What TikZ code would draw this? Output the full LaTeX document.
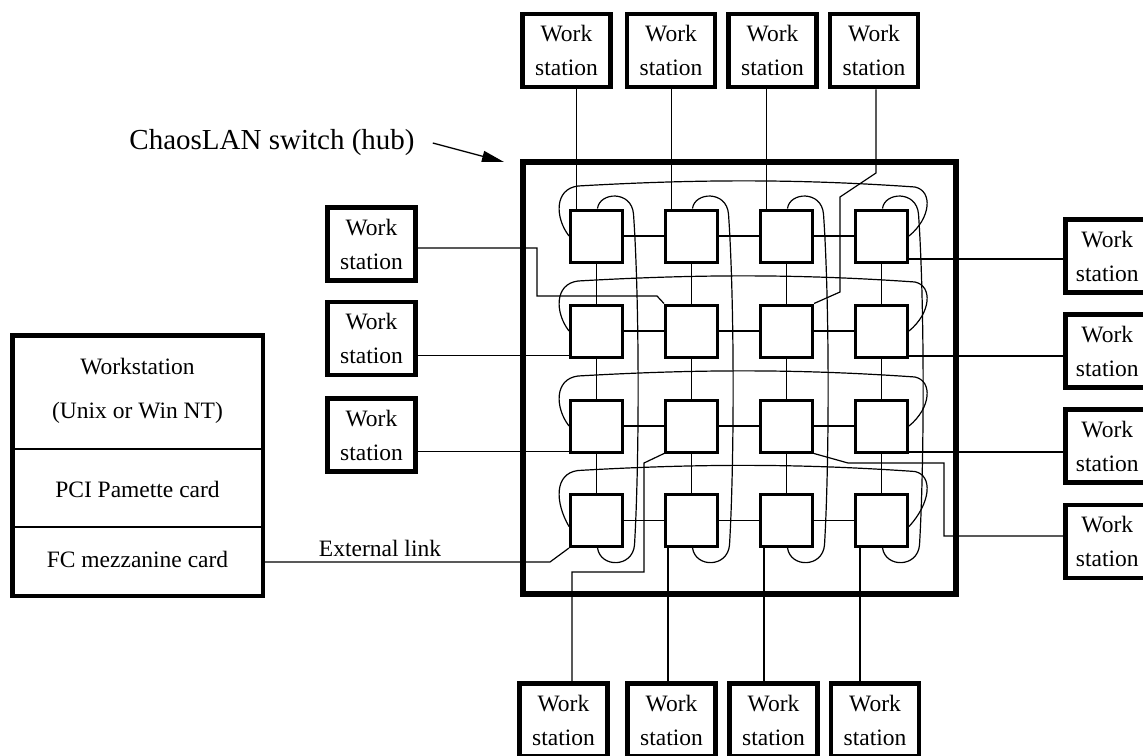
\documentclass[tikz,border=0pt]{standalone}
\usepackage{fontspec}
\setmainfont{Liberation Serif}
\usetikzlibrary{arrows.meta,calc}
\begin{document}
\begin{tikzpicture}[x=1pt,y=-1pt,
  ws/.style={draw,line width=4.5pt,minimum width=88pt,minimum height=73pt,inner sep=0pt,align=center,font=\fontsize{23.5}{34}\selectfont},
  sw/.style={draw,line width=3pt,minimum size=52pt,inner sep=0pt},
  wire/.style={line width=1.2pt},
  lbl/.style={inner sep=0pt,font=\fontsize{23.5}{34}\selectfont}]
\useasboundingbox (0,0) rectangle (1143,755);
\begin{scope}
\clip (0,0) rectangle (1143,755);
% hub
\node[draw,line width=6pt,minimum width=433.5pt,minimum height=432.5pt,inner sep=0pt] (hub) at (739.25,377.75) {};
% switches
\foreach \r/\y in {1/236,2/331,3/426,4/520.5}
  \foreach \c/\x in {1/596.5,2/691.5,3/786.5,4/881.5}
    \node[sw] (s\r\c) at (\x,\y) {};
% grid links
\foreach \r in {1,...,4}
  \foreach \c/\d in {1/2,2/3,3/4}
    \draw[wire] (s\r\c.east) -- (s\r\d.west);
\foreach \c in {1,...,4}
  \foreach \r/\q in {1/2,2/3,3/4}
    \draw[wire] (s\r\c.south) -- (s\q\c.north);
% row wrap-around
\foreach \r/\y/\o in {1/236/0,2/331/0,3/426/0,4/520.5/6}
  \draw[wire] ([yshift=-\o pt]s\r1.west) .. controls (555,\y-18) and (554,\y-47) .. (578,\y-50)
     .. controls (700,\y-57) and (800,\y-57) .. (915,\y-49)
     .. controls (933,\y-45) and (931,\y-18) .. ([yshift=-\o pt]s\r4.east);
% column wrap-around
\foreach \c/\x in {1/596.5,2/691.5,3/786.5,4/881.5}
  \draw[wire] ([xshift=1pt]s1\c.north) .. controls (\x+3,192) and (\x+35,190) .. (\x+37,214)
     .. controls (\x+43,300) and (\x+43,460) .. (\x+38,545)
     .. controls (\x+36,568) and (\x+4,568) .. ([xshift=1pt]s4\c.south);
% top workstations
\foreach \i/\x in {1/566.5,2/671,3/772.5,4/874}
  \node[ws] (t\i) at (\x,50.5) {Work\\station};
\foreach \i in {1,2,3} {
  \path ([xshift=-20pt]s1\i.north) coordinate (a\i);
  \draw[wire] (a\i) -- (a\i |- t\i.south);
}
\draw[wire] ([xshift=2pt]t4.south) -- (876,173) -- (840,197) -- (840,292) -- (s23.north east);
% left workstations
\node[ws] (l1) at (371.5,244) {Work\\station};
\node[ws] (l2) at (371.5,338.5) {Work\\station};
\node[ws] (l3) at (371.5,435) {Work\\station};
\draw[wire] ([yshift=-4pt]l1.east) -| (537,296) -- (657,296) -- (s22.north west);
\path ([yshift=-24.5pt]s21.west) coordinate (a5);
\draw[wire] (a5) -- (a5 -| l2.east);
\path ([yshift=-25.5pt]s31.west) coordinate (a6);
\draw[wire] (a6) -- (a6 -| l3.east);
% right workstations
\foreach \i/\y in {1/256,2/351,3/446,4/541.5}
  \node[ws,minimum width=84pt] (r\i) at (1107.25,\y) {Work\\station};
\path ([yshift=-23pt]s14.east) coordinate (a7);
\draw[wire] (a7) -- (a7 -| r1.west);
\path ([yshift=-25pt]s24.east) coordinate (a8);
\draw[wire] (a8) -- (a8 -| r2.west);
\path ([yshift=-26pt]s34.east) coordinate (a9);
\draw[wire] (a9) -- (a9 -| r3.west);
\draw[wire] (s33.south east) -- (848,463) -- (944,463) -- (944,536) -- ([yshift=5.5pt]r4.west);
% bottom workstations
\foreach \i/\x in {1/563.5,2/671.5,3/773.5,4/875}
  \node[ws] (b\i) at (\x,720) {Work\\station};
\draw[wire] ([xshift=8.5pt]b1.north) |- (644,572) -- (644,463) -- (s32.south west);
\foreach \i/\d in {2/-23.5,3/-22.5,4/-21.5} {
  \path ([xshift=\d pt]s4\i.south) coordinate (c\i);
  \draw[wire] (c\i) -- (c\i |- b\i.north);
}
% host workstation
\node[draw,line width=4.5pt,minimum width=250.5pt,minimum height=260.5pt,inner sep=0pt] (host) at (137.5,465.5) {};
\coordinate (d1) at (0,449);
\coordinate (d2) at (0,527);
\draw[line width=1.3pt] (host.west |- d1) -- (host.east |- d1);
\draw[line width=1.3pt] (host.west |- d2) -- (host.east |- d2);
\node[lbl] (tw) at (137.5,367) {Workstation};
\node[lbl] (tu) at (137.5,413) {(Unix or Win NT)};
\node[lbl] (tp) at (137.5,489) {PCI Pamette card};
\node[lbl] (tf) at (137.5,559) {FC mezzanine card};
\coordinate (xl) at (550,562);
\draw[wire] (host.east |- xl) -- (xl) -- (s41.south west);
\node[lbl] (ext) at (380,548) {External link};
% title
\node[inner sep=0pt,font=\fontsize{29}{35}\selectfont] (title) at (272,143) {ChaosLAN switch (hub)};
\coordinate (tip) at (504,162);
\draw[line width=1.3pt,-{Triangle[length=22pt,width=11pt]}] ([xshift=18pt]title.east) -- (tip);
\end{scope}
\end{tikzpicture}
\end{document}
